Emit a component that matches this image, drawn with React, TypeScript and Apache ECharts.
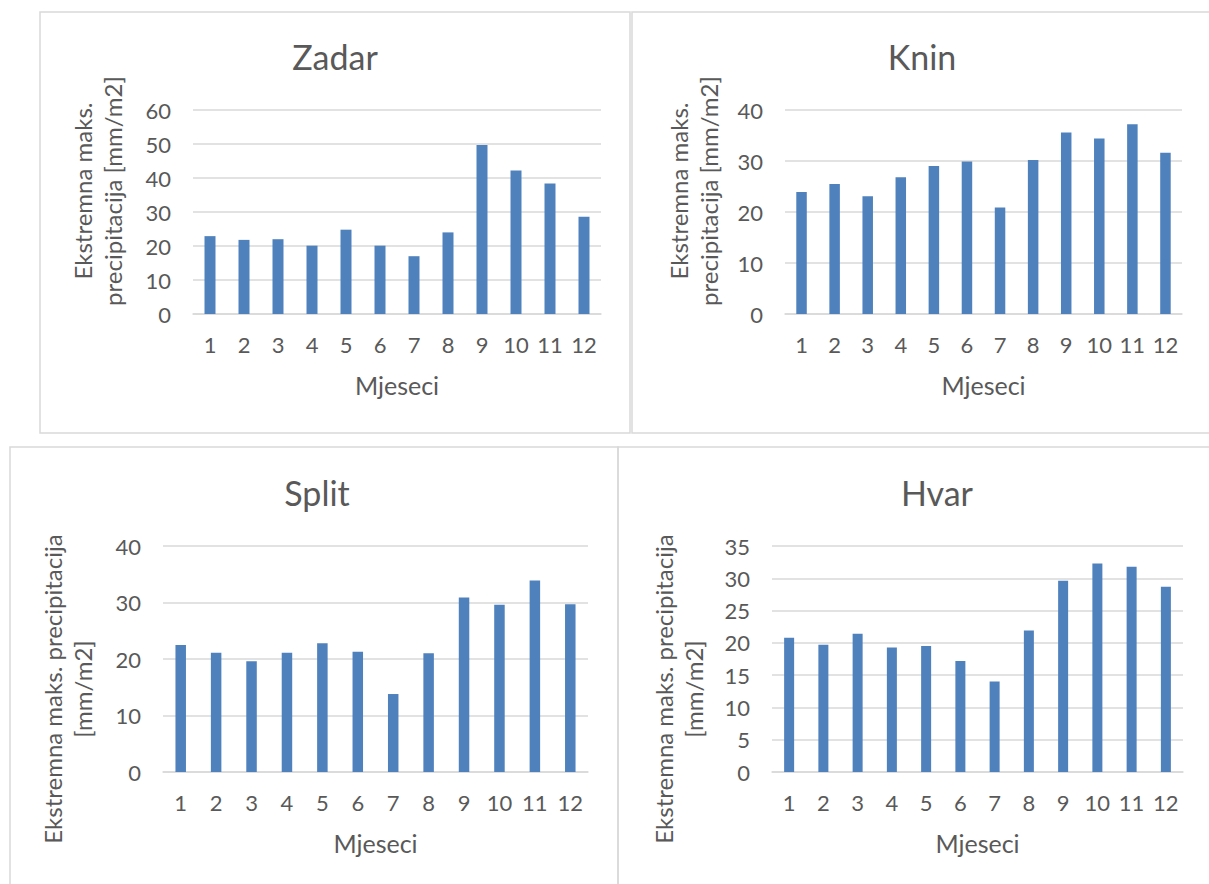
import { useEffect, useRef } from "react";
import * as echarts from "echarts";

// months on the x axis
const months = ["1", "2", "3", "4", "5", "6", "7", "8", "9", "10", "11", "12"];

// extreme max precipitation per month [mm/m2]
const zadar = [22.9, 21.8, 22.0, 20.1, 24.8, 20.1, 17.0, 24.0, 49.7, 42.2, 38.4, 28.6];
const knin = [23.9, 25.5, 23.1, 26.8, 29.0, 29.9, 20.9, 30.2, 35.6, 34.4, 37.2, 31.6];
const split = [22.5, 21.1, 19.6, 21.1, 22.8, 21.3, 13.8, 21.0, 30.9, 29.6, 33.9, 29.7];
const hvar = [20.8, 19.7, 21.4, 19.3, 19.5, 17.2, 14.0, 21.9, 29.6, 32.3, 31.8, 28.7];

const stations = ["Zadar", "Knin", "Split", "Hvar"];
const seriesData = [zadar, knin, split, hvar];
// y axis range per station
const yMax = [60, 40, 40, 35];
const yStep = [10, 10, 10, 5];
const yNames = [
  "Ekstremna maks.\nprecipitacija [mm/m2]",
  "Ekstremna maks.\nprecipitacija [mm/m2]",
  "Ekstremna maks. precipitacija\n[mm/m2]",
  "Ekstremna maks. precipitacija\n[mm/m2]",
];

const FONT = "Lato, 'Noto Sans', sans-serif";
const TEXT = "#595959";
const GRID_LINE = "#d9d9d9";
const BAR = "#4f81bd";

// layout of each panel (pixels)
const panels = [
  { box: [40, 12, 590, 421], grid: [193, 110, 408, 204], title: [335, 56], yName: [97, 191], barWidth: 11 },
  { box: [632, 12, 590, 421], grid: [785, 110, 397, 204], title: [922, 56], yName: [693, 191], barWidth: 10.5 },
  { box: [10, 447, 608, 460], grid: [163, 546, 425, 226], title: [317, 492], yName: [67, 689], barWidth: 10.5 },
  { box: [618, 447, 600, 460], grid: [772, 546, 411, 226], title: [937, 492], yName: [678, 689], barWidth: 10 },
];

const App = () => {
  const chartRef = useRef<HTMLDivElement>(null);

  useEffect(() => {
    if (!chartRef.current) return;
    const chart = echarts.init(chartRef.current, null, { renderer: "svg" });

    const graphics: any[] = [];
    panels.forEach((p, i) => {
      graphics.push({
        type: "rect",
        silent: true,
        shape: { x: p.box[0], y: p.box[1], width: p.box[2], height: p.box[3] },
        style: { fill: "none", stroke: GRID_LINE, lineWidth: 1.5 },
      });
      graphics.push({
        type: "text",
        x: p.title[0],
        y: p.title[1],
        style: {
          text: stations[i],
          fill: TEXT,
          font: `34px ${FONT}`,
          align: "center",
          verticalAlign: "middle",
        },
      });
      graphics.push({
        type: "text",
        x: p.yName[0],
        y: p.yName[1],
        rotation: Math.PI / 2,
        style: {
          text: yNames[i],
          fill: TEXT,
          font: `24px ${FONT}`,
          lineHeight: 30,
          align: "center",
          verticalAlign: "middle",
        },
      });
    });

    chart.setOption({
      animation: false,
      backgroundColor: "#fff",
      textStyle: { fontFamily: FONT },
      graphic: graphics,
      grid: panels.map((p) => ({
        left: p.grid[0],
        top: p.grid[1],
        width: p.grid[2],
        height: p.grid[3],
      })),
      xAxis: panels.map((_, i) => ({
        type: "category",
        gridIndex: i,
        data: months,
        name: "Mjeseci",
        nameLocation: "middle",
        nameGap: 58,
        nameTextStyle: { color: TEXT, fontSize: 25, fontFamily: FONT },
        axisLine: { lineStyle: { color: GRID_LINE, width: 1.5 } },
        axisTick: { show: false },
        axisLabel: { color: TEXT, fontSize: 22, fontFamily: FONT, margin: 19, interval: 0 },
      })),
      yAxis: panels.map((_, i) => ({
        type: "value",
        gridIndex: i,
        min: 0,
        max: yMax[i],
        interval: yStep[i],
        axisLine: { show: false },
        axisTick: { show: false },
        splitLine: { lineStyle: { color: GRID_LINE, width: 1.5 } },
        axisLabel: { color: TEXT, fontSize: 22, fontFamily: FONT, margin: 22 },
      })),
      series: seriesData.map((d, i) => ({
        type: "bar",
        name: stations[i],
        xAxisIndex: i,
        yAxisIndex: i,
        data: d,
        barWidth: panels[i].barWidth,
        itemStyle: { color: BAR },
      })),
    });

    return () => {
      chart.dispose();
    };
  }, []);

  return (
    <div
      ref={chartRef}
      style={{ position: "absolute", left: 0, top: 0, width: 1209, height: 884 }}
    ></div>
  );
};

export default App;
